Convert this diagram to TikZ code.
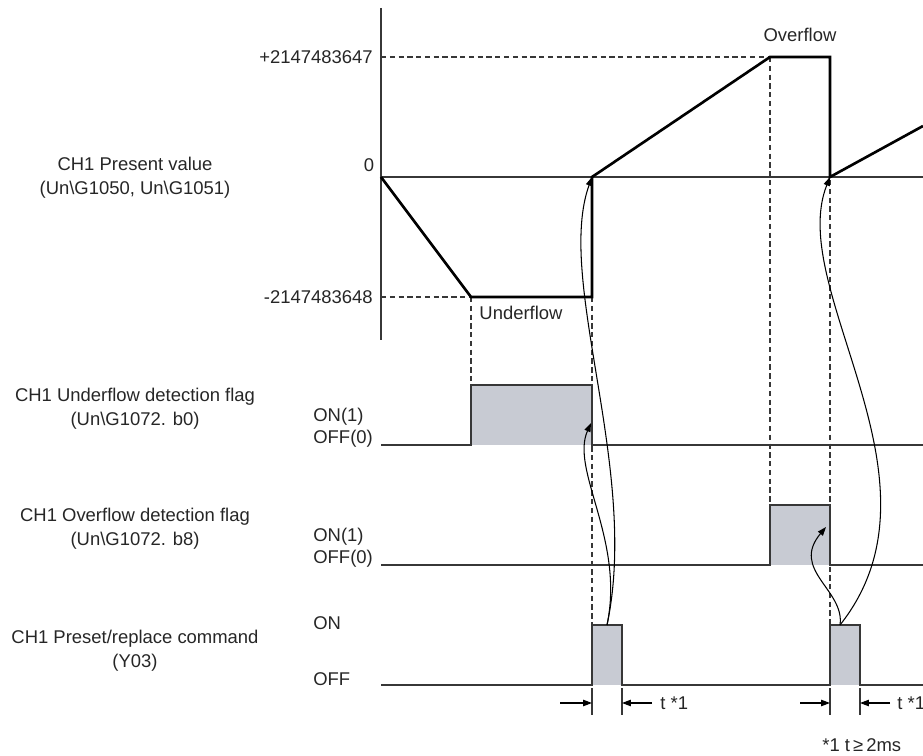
\documentclass[tikz,border=0pt]{standalone}
\usepackage{fontspec}
\setmainfont{Liberation Sans}
\usetikzlibrary{arrows.meta}
\definecolor{flaggray}{RGB}{200,203,211}
\definecolor{linegray}{RGB}{55,55,55}

\begin{document}
\begin{tikzpicture}[x=0.02cm, y=-0.02cm,
    every node/.style={font=\fontsize{10.5}{13.5}\selectfont, text=black!85, inner sep=0pt},
    signal/.style={linegray, line width=0.7pt},
    value/.style={black, line width=1.5pt, line join=miter},
    guide/.style={linegray, line width=0.6pt, dash pattern=on 3pt off 2pt},
    pulse/.style={fill=flaggray},
    cause/.style={black, line width=0.6pt, -{Triangle[length=5pt, width=3.6pt]}},
    span/.style={black, line width=0.6pt, -{Triangle[length=5pt, width=3.6pt]}}]
    \useasboundingbox (0,0) rectangle (923,756);

    % Key points
    \coordinate (origin) at (381,177);
    \coordinate (minA) at (471,297);
    \coordinate (minB) at (592,297);
    \coordinate (zeroA) at (592,177);
    \coordinate (maxA) at (770,57);
    \coordinate (maxB) at (830,57);
    \coordinate (zeroB) at (830,177);
    \coordinate (rise) at (923,126);
    \coordinate (uflEdge) at (591,423);
    \coordinate (oflEdge) at (826,527);
    \coordinate (presetA) at (607,625);
    \coordinate (presetB) at (840,625);

    % Guide lines
    \draw[guide] (381,57) -- (maxA);
    \draw[guide] (381,297) -- (minA);
    \draw[guide] (minA) -- (471,445);
    \draw[guide] (minB) -- (592,625);
    \draw[guide] (maxA) -- (770,505);
    \draw[guide] (maxB) -- (830,625);

    % Flag pulses
    \fill[pulse] (471,385) rectangle (592,445);
    \fill[pulse] (770,505) rectangle (830,565);
    \fill[pulse] (592,625) rectangle (622,685);
    \fill[pulse] (830,625) rectangle (860,685);

    % Signals
    \draw[signal] (381,8) -- (381,340);
    \draw[signal] (origin) -- (923,177);
    \draw[signal] (381,445) -- (471,445) -- (471,385) -- (592,385) -- (592,445) -- (923,445);
    \draw[signal] (381,565) -- (770,565) -- (770,505) -- (830,505) -- (830,565) -- (923,565);
    \draw[signal] (381,685) -- (592,685) -- (592,625) -- (622,625) -- (622,685)
        -- (830,685) -- (830,625) -- (860,625) -- (860,685) -- (923,685);

    % Present value
    \draw[value] (origin) -- (minA) -- (minB) -- (zeroA) -- (maxA) -- (maxB) -- (zeroB) -- (rise);

    % Causes
    \draw[cause] (presetA) .. controls (640,470) and (555,280) .. (zeroA);
    \draw[cause] (presetA) .. controls (625,540) and (570,470) .. (uflEdge);
    \draw[cause] (presetB) .. controls (955,480) and (785,290) .. (zeroB);
    \draw[cause] (presetB) .. controls (845,590) and (790,570) .. (oflEdge);

    % Pulse width
    \foreach \x in {592,622,830,860}
        \draw[signal, line width=0.6pt] (\x,688) -- (\x,715);
    \coordinate (spanA) at (560,703);
    \coordinate (spanB) at (652,703);
    \coordinate (spanC) at (800,703);
    \coordinate (spanD) at (890,703);
    \draw[span] (spanA) -- (592,703);
    \draw[span] (spanB) -- (622,703);
    \draw[span] (spanC) -- (830,703);
    \draw[span] (spanD) -- (860,703);
    \node[anchor=west] (tA) at (660,703) {t *1};
    \node[anchor=west] (tB) at (897,703) {t *1};
    \node[anchor=west] (note) at (822,745) {*1 t\,≥\,2ms};

    % Value labels
    \node[anchor=east] (vmax) at (373,57) {+2147483647};
    \node (vzero) at (369,165) {0};
    \node[anchor=east] (vmin) at (373,297) {-2147483648};
    \node (over) at (800,35) {Overflow};
    \node (under) at (521,313) {Underflow};

    % Signal labels
    \node[align=center] (present) at (135,178) {CH1 Present value\\(Un\textbackslash G1050, Un\textbackslash G1051)};
    \node[align=center] (uflag) at (135,409) {CH1 Underflow detection flag\\(Un\textbackslash G1072. b0)};
    \node[align=center] (oflag) at (135,529) {CH1 Overflow detection flag\\(Un\textbackslash G1072. b8)};
    \node[align=center] (preset) at (135,651) {CH1 Preset/replace command\\(Y03)};
    \node[anchor=west] (uon) at (313,417) {ON(1)};
    \node[anchor=west] (uoff) at (313,439) {OFF(0)};
    \node[anchor=west] (oon) at (313,537) {ON(1)};
    \node[anchor=west] (ooff) at (313,559) {OFF(0)};
    \node[anchor=west] (pon) at (313,623) {ON};
    \node[anchor=west] (poff) at (313,679) {OFF};
\end{tikzpicture}
\end{document}
